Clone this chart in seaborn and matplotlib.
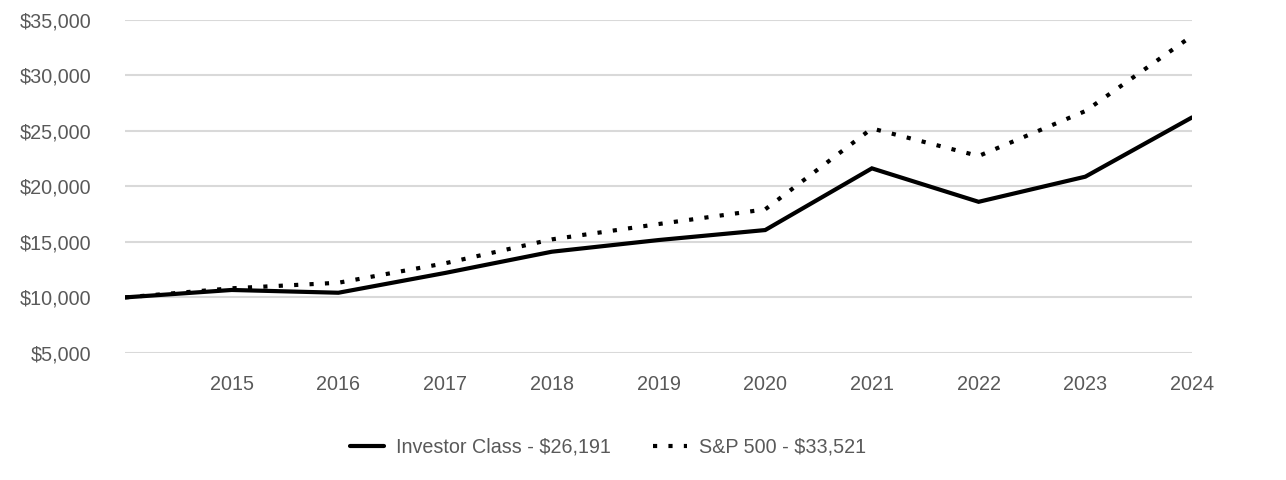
import matplotlib
matplotlib.use("Agg")
import matplotlib.pyplot as plt
import seaborn as sns
import pandas as pd
from matplotlib.ticker import FuncFormatter, FixedLocator
from matplotlib.lines import Line2D

years = [2014, 2015, 2016, 2017, 2018, 2019, 2020, 2021, 2022, 2023, 2024]
investor = [10000, 10670, 10420, 12200, 14110, 15160, 16060, 21610, 18600, 20860, 26191]
sp500 = [10000, 10820, 11320, 13070, 15220, 16600, 17920, 25200, 22720, 26760, 33521]
series_names = ["Investor Class - $26,191", "S&P 500 - $33,521"]
xtick_years = [2015, 2016, 2017, 2018, 2019, 2020, 2021, 2022, 2023, 2024]
ytick_values = [5000, 10000, 15000, 20000, 25000, 30000, 35000]

df = pd.concat([
    pd.DataFrame({"year": years, "value": investor, "series": series_names[0]}),
    pd.DataFrame({"year": years, "value": sp500, "series": series_names[1]}),
])

sns.set_theme(style="white")
plt.rcParams["font.family"] = ["Liberation Sans", "DejaVu Sans"]
FS = 14.2

fig = plt.figure(figsize=(12.86, 4.8), dpi=100)
ax = fig.add_axes([125 / 1286, 1 - 353 / 480, (1192 - 125) / 1286, (353 - 19.5) / 480])

sns.lineplot(
    data=df, x="year", y="value", hue="series", style="series",
    palette={series_names[0]: "black", series_names[1]: "black"},
    dashes={series_names[0]: "", series_names[1]: (1, 2.7)},
    linewidth=3, ax=ax, legend=False,
)
for ln in ax.get_lines():
    ln.set_dash_capstyle("butt")
    ln.set_solid_joinstyle("miter")

ax.set_xlim(2014, 2024)
ax.set_ylim(5000, 35000)
ax.xaxis.set_major_locator(FixedLocator(xtick_years))
ax.yaxis.set_major_locator(FixedLocator(ytick_values))
ax.yaxis.set_major_formatter(FuncFormatter(lambda v, p: f"${v:,.0f}"))
ax.set_xlabel("")
ax.set_ylabel("")
ax.grid(axis="y", color="#d9d9d9", linewidth=1.5)
ax.grid(axis="x", visible=False)
ax.set_axisbelow(True)
for s in ax.spines.values():
    s.set_visible(False)
ax.tick_params(axis="both", length=0, labelsize=FS, labelcolor="#595959")
ax.tick_params(axis="x", pad=16)
ax.tick_params(axis="y", pad=24)

handles = [
    Line2D([], [], color="black", linewidth=3),
    Line2D([], [], color="black", linewidth=3, dashes=(1, 2.7), dash_capstyle="butt"),
]
leg = fig.legend(handles, series_names, loc="center", bbox_to_anchor=(608 / 1286, 1 - 447 / 480),
                 ncol=2, frameon=False, fontsize=FS, handlelength=1.76, handletextpad=0.6,
                 columnspacing=2.1)
for t in leg.get_texts():
    t.set_color("#595959")

fig.savefig("out.png", dpi=100)
